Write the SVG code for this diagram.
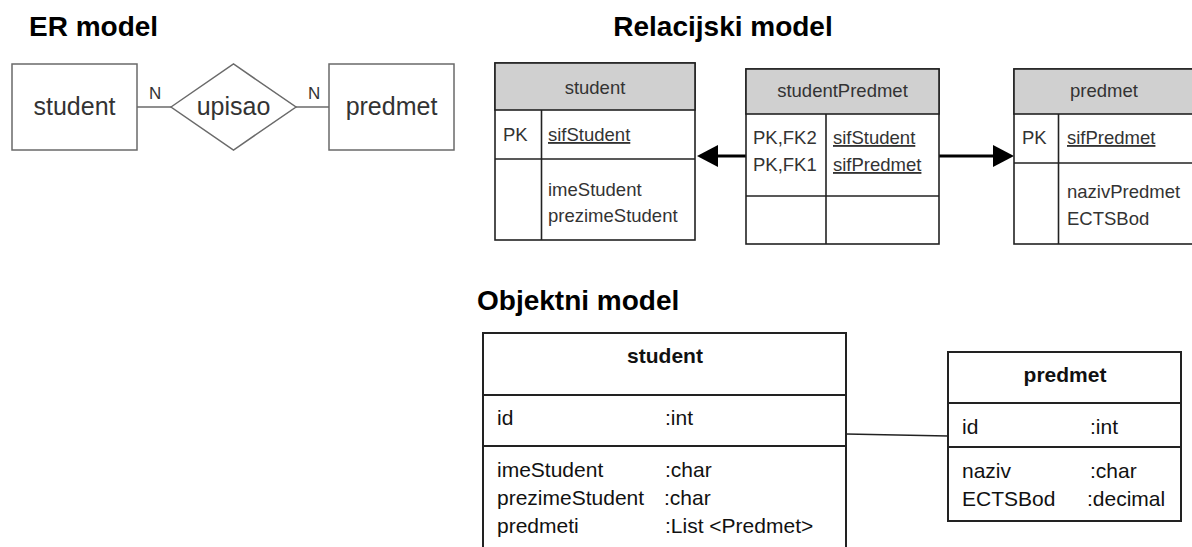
<svg xmlns="http://www.w3.org/2000/svg" width="1192" height="547" viewBox="0 0 1192 547">
<defs>
<style>
.title{font-family:"Liberation Sans",Arial,sans-serif;font-weight:bold;font-size:28px;fill:#000}
.er{fill:#fff;stroke:#6a6a6a;stroke-width:1.5}
.ert{font-family:"Liberation Sans",Arial,sans-serif;font-size:25px;fill:#333}
.n{font-family:"Liberation Sans",Arial,sans-serif;font-size:17px;fill:#333}
.tb{fill:#fff;stroke:#222;stroke-width:1.6}
.hd{fill:#d0d0d0;stroke:#222;stroke-width:1.6}
.ln{stroke:#222;stroke-width:1.6;fill:none}
.rt{font-family:"Liberation Sans",Arial,sans-serif;font-size:18.5px;fill:#333}
.u{text-decoration:underline}
.ob{fill:#fff;stroke:#222;stroke-width:2}
.oln{stroke:#222;stroke-width:2;fill:none}
.ot{font-family:"Liberation Sans",Arial,sans-serif;font-size:21px;fill:#111}
.oh{font-family:"Liberation Sans",Arial,sans-serif;font-size:21px;font-weight:bold;fill:#111}
</style>
</defs>
<rect width="1192" height="547" fill="#fff"/>

<text class="title" x="29" y="36">ER model</text>
<text class="title" x="723" y="36" text-anchor="middle">Relacijski model</text>
<text class="title" x="477" y="310">Objektni model</text>

<g id="connectors">
<line x1="137" y1="107" x2="171" y2="107" stroke="#6a6a6a" stroke-width="1.5"/>
<line x1="296" y1="107" x2="329" y2="107" stroke="#6a6a6a" stroke-width="1.5"/>
<text class="n" x="149" y="99">N</text>
<text class="n" x="308" y="99">N</text>
<line x1="746" y1="156" x2="718" y2="156" stroke="#000" stroke-width="3"/>
<path d="M697,156 L718,145 L718,167 z" fill="#000"/>
<line x1="939" y1="156" x2="994" y2="156" stroke="#000" stroke-width="3"/>
<path d="M1014,156 L993,145 L993,167 z" fill="#000"/>
<line x1="846" y1="434" x2="948" y2="436" stroke="#222" stroke-width="1.5"/>
</g>

<g id="er-student">
<rect class="er" x="12" y="64" width="125" height="86"/>
<text class="ert" x="74.5" y="115" text-anchor="middle">student</text>
</g>
<g id="er-upisao">
<polygon class="er" points="171,107 233.5,64 296,107 233.5,150"/>
<text class="ert" x="233.5" y="115" text-anchor="middle">upisao</text>
</g>
<g id="er-predmet">
<rect class="er" x="329" y="64" width="125" height="86"/>
<text class="ert" x="391.5" y="115" text-anchor="middle">predmet</text>
</g>

<g id="rel-student">
<rect class="tb" x="495" y="63" width="200" height="177"/>
<rect class="hd" x="495" y="63" width="200" height="47"/>
<line class="ln" x1="495" y1="159" x2="695" y2="159"/>
<line class="ln" x1="541.5" y1="110" x2="541.5" y2="240"/>
<text class="rt" x="595" y="94" text-anchor="middle">student</text>
<text class="rt" x="503" y="141">PK</text>
<text class="rt u" x="548" y="141">sifStudent</text>
<text class="rt" x="548" y="196">imeStudent</text>
<text class="rt" x="548" y="222">prezimeStudent</text>
</g>

<g id="rel-studentPredmet">
<rect class="tb" x="746" y="69" width="193" height="175"/>
<rect class="hd" x="746" y="69" width="193" height="45"/>
<line class="ln" x1="746" y1="196" x2="939" y2="196"/>
<line class="ln" x1="826" y1="114" x2="826" y2="244"/>
<text class="rt" x="842.5" y="97" text-anchor="middle">studentPredmet</text>
<text class="rt" x="753" y="144">PK,FK2</text>
<text class="rt" x="753" y="171">PK,FK1</text>
<text class="rt u" x="833" y="144">sifStudent</text>
<text class="rt u" x="833" y="171">sifPredmet</text>
</g>

<g id="rel-predmet">
<rect class="tb" x="1014" y="69" width="182" height="175"/>
<rect class="hd" x="1014" y="69" width="182" height="45"/>
<line class="ln" x1="1014" y1="163" x2="1196" y2="163"/>
<line class="ln" x1="1058.5" y1="114" x2="1058.5" y2="244"/>
<text class="rt" x="1104" y="97" text-anchor="middle">predmet</text>
<text class="rt" x="1022" y="144">PK</text>
<text class="rt u" x="1067" y="144">sifPredmet</text>
<text class="rt" x="1067" y="198">nazivPredmet</text>
<text class="rt" x="1067" y="225">ECTSBod</text>
</g>

<g id="obj-student">
<rect class="ob" x="483" y="333" width="363" height="230"/>
<line class="oln" x1="483" y1="395" x2="846" y2="395"/>
<line class="oln" x1="483" y1="446" x2="846" y2="446"/>
<text class="oh" x="665" y="363" text-anchor="middle">student</text>
<text class="ot" x="497" y="425">id</text>
<text class="ot" x="665" y="425">:int</text>
<text class="ot" x="497" y="477">imeStudent</text>
<text class="ot" x="665" y="477">:char</text>
<text class="ot" x="497" y="505">prezimeStudent</text>
<text class="ot" x="664" y="505">:char</text>
<text class="ot" x="497" y="533">predmeti</text>
<text class="ot" x="665" y="533">:List &lt;Predmet&gt;</text>
</g>

<g id="obj-predmet">
<rect class="ob" x="948" y="352" width="233" height="169"/>
<line class="oln" x1="948" y1="403" x2="1181" y2="403"/>
<line class="oln" x1="948" y1="447" x2="1181" y2="447"/>
<text class="oh" x="1065" y="382" text-anchor="middle">predmet</text>
<text class="ot" x="962" y="434">id</text>
<text class="ot" x="1090" y="434">:int</text>
<text class="ot" x="962" y="478">naziv</text>
<text class="ot" x="1090" y="478">:char</text>
<text class="ot" x="962" y="506">ECTSBod</text>
<text class="ot" x="1087" y="506">:decimal</text>
</g>
</svg>
